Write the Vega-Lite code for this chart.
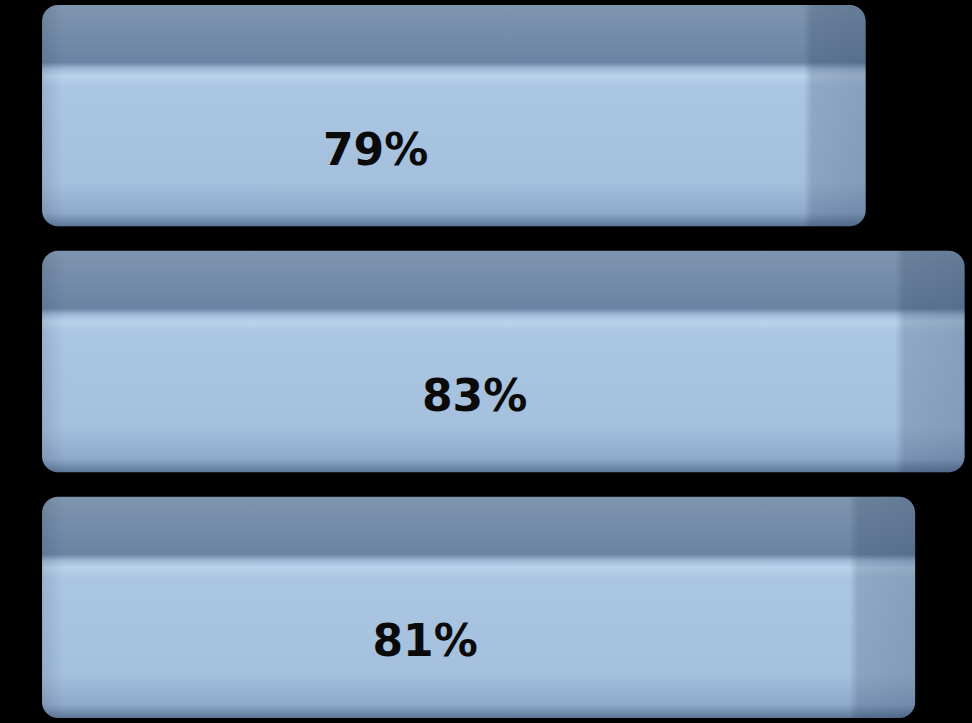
{
  "$schema": "https://vega.github.io/schema/vega-lite/v6.json",
  "width": 972,
  "height": 723,
  "autosize": {"type": "fit", "contains": "padding"},
  "padding": 0,
  "background": "#000000",
  "config": {"view": {"stroke": null}},
  "data": {"values": [
    {"group": "A", "value": 79, "label": "79%"},
    {"group": "B", "value": 83, "label": "83%"},
    {"group": "C", "value": 81, "label": "81%"}
  ]},
  "encoding": {
    "y": {"field": "group", "type": "nominal", "axis": null,
          "scale": {"paddingInner": 0.1, "paddingOuter": 0.02}},
    "x": {"field": "value", "type": "quantitative", "axis": null,
          "scale": {"domain": [44, 83.3], "zero": false, "nice": false}}
  },
  "layer": [
    {
      "mark": {"type": "bar", "cornerRadius": 16,
        "color": {"gradient": "linear", "x1": 0, "y1": 0, "x2": 0, "y2": 1,
          "stops": [
            {"offset": 0, "color": "#7e95af"},
            {"offset": 0.26, "color": "#6a84a3"},
            {"offset": 0.29, "color": "#a1bbd8"},
            {"offset": 0.32, "color": "#bad2eb"},
            {"offset": 0.37, "color": "#abc6e3"},
            {"offset": 0.8, "color": "#a4c0dd"},
            {"offset": 0.94, "color": "#8fa9c9"},
            {"offset": 1, "color": "#5e7899"}
          ]}},
      "encoding": {"x2": {"datum": 45.7}}
    },
    {
      "mark": {"type": "bar", "cornerRadius": 16,
        "color": {"gradient": "linear", "x1": 0, "y1": 0, "x2": 1, "y2": 0,
          "stops": [
            {"offset": 0, "color": "rgba(20,30,50,0.12)"},
            {"offset": 0.025, "color": "rgba(20,30,50,0)"},
            {"offset": 0.925, "color": "rgba(20,30,50,0)"},
            {"offset": 0.935, "color": "rgba(30,50,80,0.2)"},
            {"offset": 1, "color": "rgba(30,50,80,0.26)"}
          ]}},
      "encoding": {"x2": {"datum": 45.7}}
    },
    {
      "mark": {"type": "text", "font": "DejaVu Sans", "fontWeight": "bold",
               "fontSize": 44, "color": "#0a0a0a", "dx": -490, "dy": 36,
               "align": "center", "baseline": "middle"},
      "encoding": {"text": {"field": "label"}}
    }
  ]
}
